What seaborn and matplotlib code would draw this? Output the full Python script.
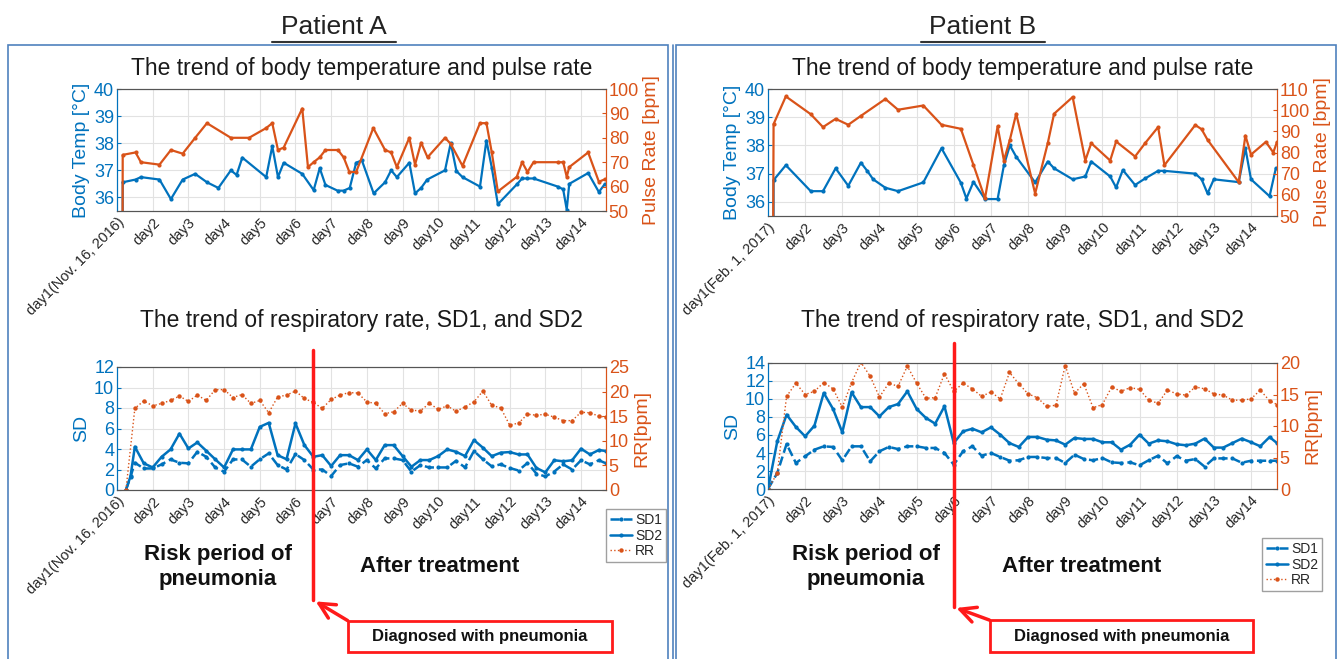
import matplotlib
matplotlib.use("Agg")
import matplotlib.pyplot as plt
import matplotlib.transforms as mtransforms
from matplotlib.lines import Line2D
from matplotlib.patches import Rectangle
import seaborn as sns

sns.set_style("white")
plt.rcParams['font.family'] = ['Liberation Sans', 'DejaVu Sans']

BLUE = "#0072BD"
ORANGE = "#D95319"
W, H = 1340, 659

# ---- data (time in days after day1) ----
days_A = ["day1(Nov. 16, 2016)"] + ["day%d" % i for i in range(2, 15)]
days_B = ["day1(Feb. 1, 2017)"] + ["day%d" % i for i in range(2, 15)]

# Patient A, top
tA_pulse = [0.15, 0.16, 0.52, 0.67, 1.19, 1.51, 1.84, 2.19, 2.52, 3.19, 3.70, 4.18, 4.35, 4.51,
            4.67, 5.19, 5.35, 5.51, 5.68, 5.84, 6.19, 6.35, 6.51, 6.70, 7.18, 7.51, 7.68, 7.84,
            8.19, 8.35, 8.52, 8.70, 9.19, 9.35, 9.68, 10.17, 10.35, 10.5, 10.67, 11.2, 11.35,
            11.5, 11.67, 12.35, 12.5, 12.6, 12.67, 13.2, 13.5, 13.67]
pulse_A = [0, 73, 74, 70, 69, 75, 73.5, 80, 86, 80, 80, 84, 86, 75,
           76, 92, 68, 70, 72, 75, 75, 72, 66, 66, 84, 75, 74, 68,
           80, 69, 78, 72, 80, 77.5, 68.5, 86, 86, 74, 58, 64, 70,
           66, 70, 70, 70, 64, 68, 74, 62, 63]
tA_temp = [0.15, 0.16, 0.52, 0.67, 1.19, 1.51, 1.84, 2.19, 2.52, 2.84, 3.19, 3.35, 3.51, 4.18,
           4.35, 4.51, 4.67, 5.19, 5.51, 5.68, 5.84, 6.18, 6.35, 6.52, 6.70, 6.86, 7.19, 7.51,
           7.68, 7.84, 8.19, 8.35, 8.52, 8.69, 9.19, 9.35, 9.51, 9.68, 10.17, 10.35, 10.5,
           10.67, 11.2, 11.35, 11.5, 11.67, 12.35, 12.5, 12.6, 12.67, 13.2, 13.5, 13.67]
temp_A = [0, 36.56, 36.66, 36.75, 36.66, 35.94, 36.66, 36.87, 36.56, 36.35, 37.0, 36.83, 37.47, 36.75,
          37.89, 36.75, 37.28, 36.87, 36.27, 37.08, 36.46, 36.25, 36.25, 36.35, 37.28, 37.37, 36.15, 36.56,
          37.0, 36.75, 37.28, 36.15, 36.35, 36.66, 37.0, 38.01, 36.97, 36.75, 36.4, 38.1, 37.1,
          35.75, 36.48, 36.7, 36.7, 36.7, 36.4, 36.3, 35.55, 36.5, 36.9, 36.2, 36.5]

# Patient A, bottom
tA_sd = [0.25, 0.38, 0.5, 0.75, 1.0, 1.25, 1.5, 1.75, 2.0, 2.25, 2.5, 2.75, 3.0, 3.25, 3.5, 3.75,
         4.0, 4.25, 4.5, 4.75, 5.0, 5.25, 5.5, 5.75, 6.0, 6.25, 6.5, 6.75, 7.0, 7.25, 7.5, 7.75,
         8.0, 8.25, 8.5, 8.75, 9.0, 9.25, 9.5, 9.75, 10.0, 10.25, 10.5, 10.75, 11.0, 11.25, 11.5,
         11.75, 12.0, 12.25, 12.5, 12.75, 13.0, 13.25, 13.5, 13.7]
sd2_A = [0, 1.36, 4.22, 2.6, 2.2, 3.24, 3.96, 5.5, 4.05, 4.64, 3.83, 3.0, 2.2, 3.96, 3.96, 3.96,
         6.16, 6.55, 3.4, 3.0, 6.5, 4.38, 3.24, 3.4, 2.34, 3.4, 3.4, 2.92, 3.96, 2.92, 4.38, 4.38,
         3.31, 2.27, 2.92, 2.92, 3.31, 3.96, 3.73, 3.31, 4.87, 4.13, 3.3, 3.64, 3.7, 3.47, 3.47,
         2.15, 1.72, 2.9, 2.8, 2.9, 4.03, 3.47, 3.9, 3.8]
sd1_A = [0, 1.3, 2.66, 2.1, 2.1, 2.5, 2.98, 2.66, 2.6, 3.73, 3.24, 2.2, 1.78, 2.98, 2.98, 2.27,
         3.0, 3.57, 2.43, 2.0, 3.5, 2.92, 2.0, 2.0, 1.36, 2.43, 2.6, 2.27, 2.92, 2.1, 3.08, 3.08,
         2.92, 1.78, 2.43, 2.2, 2.2, 2.2, 2.85, 2.2, 3.8, 3.0, 2.3, 2.5, 2.15, 1.9, 2.64,
         1.6, 1.32, 1.8, 2.5, 2.0, 2.9, 2.5, 2.9, 2.6]
tA_rr = [0.25, 0.5, 0.75, 1.0, 1.25, 1.5, 1.75, 2.0, 2.25, 2.5, 2.75, 3.0, 3.25, 3.5, 3.75,
         4.0, 4.25, 4.5, 4.75, 5.0, 5.25, 5.5, 5.75, 6.0, 6.25, 6.5, 6.75, 7.0, 7.25, 7.5, 7.75,
         8.0, 8.25, 8.5, 8.75, 9.0, 9.25, 9.5, 9.75, 10.0, 10.25, 10.5, 10.75, 11.0, 11.25, 11.5,
         11.75, 12.0, 12.25, 12.5, 12.75, 13.0, 13.25, 13.5, 13.7]
rr_A = [0, 16.6, 18.1, 17.1, 17.6, 18.2, 19.1, 18.0, 19.3, 18.2, 20.4, 20.4, 18.8, 19.4, 17.6,
        18.2, 15.7, 18.9, 19.3, 20.1, 18.6, 17.8, 16.6, 18.4, 19.3, 19.8, 19.7, 17.9, 17.6, 15.5, 15.9,
        17.6, 16.2, 16.1, 17.6, 16.4, 17.1, 16.0, 16.9, 17.9, 20.1, 17.2, 16.7, 13.2, 13.6, 15.4,
        15.2, 15.4, 14.8, 14.1, 14.1, 15.8, 15.7, 15.0, 14.8]

# Patient B, top
tB_pulse = [0.13, 0.15, 0.48, 1.15, 1.48, 1.82, 2.16, 2.5, 3.16, 3.5, 4.18, 4.67, 5.19, 5.53,
            5.84, 6.18, 6.35, 6.51, 6.68, 7.19, 7.53, 7.7, 8.2, 8.54, 8.7, 9.21, 9.37, 9.88,
            10.15, 10.5, 10.67, 11.5, 11.67, 11.83, 12.67, 12.85, 13.0, 13.4, 13.6, 13.7]
pulse_B = [0, 93.4, 106.5, 98.1, 92, 95.9, 93.1, 97.3, 105.3, 100.2, 102.2, 93.1, 91.2, 74.1,
           58.3, 92.3, 76.2, 86, 98.3, 60.6, 84.4, 98.3, 106.2, 76.2, 84.4, 76.2, 85.2, 78.1,
           84.4, 92, 74, 93, 91, 86, 66, 88, 79, 85, 80, 85]
tB_temp = [0.13, 0.15, 0.48, 1.15, 1.48, 1.82, 2.16, 2.5, 2.67, 2.83, 3.16, 3.5, 4.18, 4.67,
           5.19, 5.34, 5.53, 5.84, 6.18, 6.35, 6.51, 6.68, 7.19, 7.53, 7.7, 8.2, 8.54, 8.7,
           9.21, 9.37, 9.55, 9.88, 10.15, 10.5, 10.67, 11.5, 11.67, 11.83, 12.0, 12.67, 12.85,
           13.0, 13.5, 13.67]
temp_B = [0, 36.77, 37.3, 36.38, 36.38, 37.19, 36.57, 37.39, 37.1, 36.8, 36.5, 36.38, 36.69, 37.9,
          36.68, 36.12, 36.71, 36.1, 36.1, 37.3, 38.0, 37.6, 36.69, 37.43, 37.19, 36.8, 36.9, 37.43,
          36.9, 36.51, 37.13, 36.6, 36.83, 37.1, 37.1, 37.0, 36.8, 36.3, 36.8, 36.7, 37.9,
          36.8, 36.2, 37.2]

# Patient B, bottom
tB_sd = [0, 0.25, 0.5, 0.75, 1.0, 1.25, 1.5, 1.75, 2.0, 2.25, 2.5, 2.75, 3.0, 3.25, 3.5, 3.75,
         4.0, 4.25, 4.5, 4.75, 5.0, 5.25, 5.5, 5.75, 6.0, 6.25, 6.5, 6.75, 7.0, 7.25, 7.5, 7.75,
         8.0, 8.25, 8.5, 8.75, 9.0, 9.25, 9.5, 9.75, 10.0, 10.25, 10.5, 10.75, 11.0, 11.25, 11.5,
         11.75, 12.0, 12.25, 12.5, 12.75, 13.0, 13.25, 13.5, 13.7]
sd2_B = [0, 5.3, 8.26, 6.9, 5.85, 7.04, 10.67, 8.9, 6.3, 10.74, 9.1, 9.1, 8.07, 9.1, 9.44, 10.85,
         8.9, 7.9, 7.26, 9.19, 5.1, 6.4, 6.7, 6.3, 6.85, 6.04, 5.1, 4.67, 5.78, 5.78, 5.48, 5.4,
         4.93, 5.67, 5.56, 5.56, 5.19, 5.19, 4.37, 4.93, 6.04, 5.04, 5.4, 5.3, 4.97, 4.86, 5.04,
         5.6, 4.6, 4.6, 5.1, 5.6, 5.2, 4.75, 5.77, 5.1]
sd1_B = [0, 1.78, 5.0, 2.89, 3.63, 4.37, 4.74, 4.67, 3.19, 4.74, 4.74, 3.07, 4.19, 4.67, 4.44, 4.74,
         4.74, 4.56, 4.56, 4.0, 2.7, 4.19, 4.74, 3.7, 4.0, 3.56, 3.15, 3.19, 3.56, 3.56, 3.44, 3.44,
         2.89, 3.81, 3.33, 3.19, 3.44, 2.96, 2.89, 2.96, 2.63, 3.2, 3.7, 2.85, 3.65, 3.14, 3.33,
         2.49, 3.4, 3.4, 3.4, 2.92, 3.14, 3.14, 3.14, 3.14]
rr_B = [0, 2.5, 14.7, 16.8, 15.0, 15.5, 16.9, 15.9, 13.0, 16.9, 20.1, 17.9, 14.6, 16.8, 16.3, 19.5,
        16.8, 14.4, 14.5, 18.3, 15.5, 16.8, 15.9, 14.7, 15.4, 14.3, 18.5, 16.7, 15.1, 14.5, 13.1, 13.3,
        19.6, 15.2, 16.7, 12.9, 13.4, 16.2, 15.5, 16.1, 15.8, 14.1, 13.6, 15.7, 15.1, 14.9, 16.2,
        15.9, 15.1, 14.9, 14.1, 14.1, 14.3, 15.7, 14.0, 13.4]

diag_A = 5.5
diag_B = 5.0


def fig_rect(x0, y0, x1, y1):
    return [x0 / W, 1 - y1 / H, (x1 - x0) / W, (y1 - y0) / H]


def fy(py):
    return 1 - py / H


def style(ax, ax2, labels, ylim, yticks, ylim2, yticks2):
    ax.set_xlim(0, 13.7)
    ax.set_xticks(range(14))
    ax.set_xticklabels(labels, rotation=45, ha='right', rotation_mode='anchor', fontsize=10.5)
    ax.set_ylim(*ylim)
    ax.set_yticks(yticks)
    ax2.set_ylim(*ylim2)
    ax2.set_yticks(yticks2)
    ax.grid(True, color='#e2e2e2', lw=0.8)
    ax.set_axisbelow(True)
    ax.tick_params(axis='x', direction='in', length=3, pad=3, colors='#262626')
    ax.tick_params(axis='y', direction='in', length=3, pad=2, colors=BLUE, labelsize=13)
    ax2.tick_params(axis='y', direction='in', length=3, pad=2, colors=ORANGE, labelsize=13)
    for a in (ax, ax2):
        a.spines['top'].set_color('#555555')
        a.spines['bottom'].set_color('#555555')
        a.spines['left'].set_color(BLUE)
        a.spines['right'].set_color(ORANGE)
        a.set_xlabel("")


fig = plt.figure(figsize=(W / 100, H / 100), dpi=100)

# panel frames
fig.add_artist(Rectangle((8 / W, fy(665)), 660 / W, 620 / H, transform=fig.transFigure,
                         fill=False, ec='#4f81bd', lw=1.2))
fig.add_artist(Rectangle((676 / W, fy(665)), 660 / W, 620 / H, transform=fig.transFigure,
                         fill=False, ec='#4f81bd', lw=1.2))
fig.add_artist(Line2D([673 / W, 673 / W], [fy(45), 0], color='#4f81bd', lw=1.2))

panels = [
    dict(name="Patient A", cx=334, labels=days_A,
         top=(117, 89, 606, 211), bot=(117, 367, 606, 490),
         tp=tA_pulse, p=pulse_A, tt=tA_temp, t=temp_A, plim=(50, 100), pticks=range(50, 101, 10),
         ts=tA_sd, s1=sd1_A, s2=sd2_A, tr=tA_rr, rr=rr_A,
         sdlim=(0, 12), sdticks=range(0, 13, 2), rrlim=(0, 25), rrticks=range(0, 26, 5),
         diag=diag_A, line=(350, 600), box=(348, 621, 612, 652), risk=218, after=440,
         leg=(606, 509)),
    dict(name="Patient B", cx=983, labels=days_B,
         top=(768, 89, 1277, 216), bot=(768, 363, 1277, 489),
         tp=tB_pulse, p=pulse_B, tt=tB_temp, t=temp_B, plim=(50, 110), pticks=range(50, 111, 10),
         ts=tB_sd, s1=sd1_B, s2=sd2_B, tr=tB_sd, rr=rr_B,
         sdlim=(0, 14), sdticks=range(0, 15, 2), rrlim=(0, 20), rrticks=range(0, 21, 5),
         diag=diag_B, line=(343, 607), box=(990, 620, 1253, 652), risk=866, after=1082,
         leg=(1262, 538)),
]

for pn in panels:
    # patient heading with underline
    fig.text(pn['cx'] / W, fy(27), pn['name'], ha='center', va='center', fontsize=19, color='#222222')
    fig.add_artist(Line2D([(pn['cx'] - 62) / W, (pn['cx'] + 62) / W], [fy(42)] * 2,
                          color='#333333', lw=1.5))

    # body temperature and pulse rate
    x0, y0, x1, y1 = pn['top']
    ax = fig.add_axes(fig_rect(x0, y0, x1, y1))
    ax2 = ax.twinx()
    sns.lineplot(x=pn['tt'], y=pn['t'], ax=ax, color=BLUE, lw=1.6, marker='o', markersize=3,
                 markeredgewidth=0, errorbar=None)
    sns.lineplot(x=pn['tp'], y=pn['p'], ax=ax2, color=ORANGE, lw=1.6, marker='o', markersize=3,
                 markeredgewidth=0, errorbar=None)
    style(ax, ax2, pn['labels'], (35.5, 40), range(36, 41), pn['plim'], pn['pticks'])
    ax.set_ylabel("Body Temp [°C]", color=BLUE, fontsize=14, labelpad=3)
    ax2.set_ylabel("Pulse Rate [bpm]", color=ORANGE, fontsize=14, labelpad=3)
    fig.text((x0 + x1) / 2 / W, fy(68), "The trend of body temperature and pulse rate",
             ha='center', va='center', fontsize=16.5, color='#1a1a1a')

    # respiratory rate, SD1, SD2
    x0, y0, x1, y1 = pn['bot']
    bx = fig.add_axes(fig_rect(x0, y0, x1, y1))
    bx2 = bx.twinx()
    sns.lineplot(x=pn['ts'], y=pn['s1'], ax=bx, color=BLUE, lw=1.8, linestyle='--', marker='o',
                 markersize=3, markeredgewidth=0, errorbar=None)
    sns.lineplot(x=pn['ts'], y=pn['s2'], ax=bx, color=BLUE, lw=1.8, marker='o', markersize=3,
                 markeredgewidth=0, errorbar=None)
    sns.lineplot(x=pn['tr'], y=pn['rr'], ax=bx2, color=ORANGE, lw=1.0, linestyle=':', marker='o',
                 markersize=3.2, markeredgewidth=0, errorbar=None)
    style(bx, bx2, pn['labels'], pn['sdlim'], pn['sdticks'], pn['rrlim'], pn['rrticks'])
    bx.set_ylabel("SD", color=BLUE, fontsize=14, labelpad=3)
    bx2.set_ylabel("RR[bpm]", color=ORANGE, fontsize=14, labelpad=3)
    fig.text((x0 + x1) / 2 / W, fy(320), "The trend of respiratory rate, SD1, and SD2",
             ha='center', va='center', fontsize=16.5, color='#1a1a1a')

    handles = [bx.lines[0], bx.lines[1], bx2.lines[0]]
    fig.legend(handles, ["SD1", "SD2", "RR"], loc='upper left',
               bbox_to_anchor=(pn['leg'][0] / W, fy(pn['leg'][1])), fontsize=10,
               frameon=True, fancybox=False, edgecolor='#888888', borderpad=0.3,
               labelspacing=0.1, handlelength=1.6, handletextpad=0.2, borderaxespad=0)

    # diagnosis marker
    blend = mtransforms.blended_transform_factory(bx.transData, fig.transFigure)
    ya, yb = pn['line']
    fig.add_artist(Line2D([pn['diag'], pn['diag']], [fy(ya), fy(yb)], transform=blend,
                          color='#ff1a1a', lw=2.5, zorder=10))
    bxa, bya, bxb, byb = pn['box']
    fig.add_artist(Rectangle((bxa / W, fy(byb)), (bxb - bxa) / W, (byb - bya) / H,
                             transform=fig.transFigure, fill=True, fc='white', ec='#ff1a1a', lw=2))
    fig.text((bxa + bxb) / 2 / W, fy((bya + byb) / 2), "Diagnosed with pneumonia",
             ha='center', va='center', fontsize=12, fontweight='bold', color='#111111')
    bx.annotate("", xy=(pn['diag'], fy(yb)), xycoords=blend,
                xytext=((bxa + 2) / W, fy(bya + 1)), textcoords='figure fraction',
                arrowprops=dict(arrowstyle='->', color='#ff1a1a', lw=2.5, mutation_scale=28),
                annotation_clip=False)

    fig.text(pn['risk'] / W, fy(567), "Risk period of\npneumonia", ha='center', va='center',
             fontsize=16, fontweight='bold', linespacing=1.25, color='#111111')
    fig.text(pn['after'] / W, fy(566), "After treatment", ha='center', va='center',
             fontsize=16, fontweight='bold', color='#111111')

fig.savefig("out.png", dpi=100)
